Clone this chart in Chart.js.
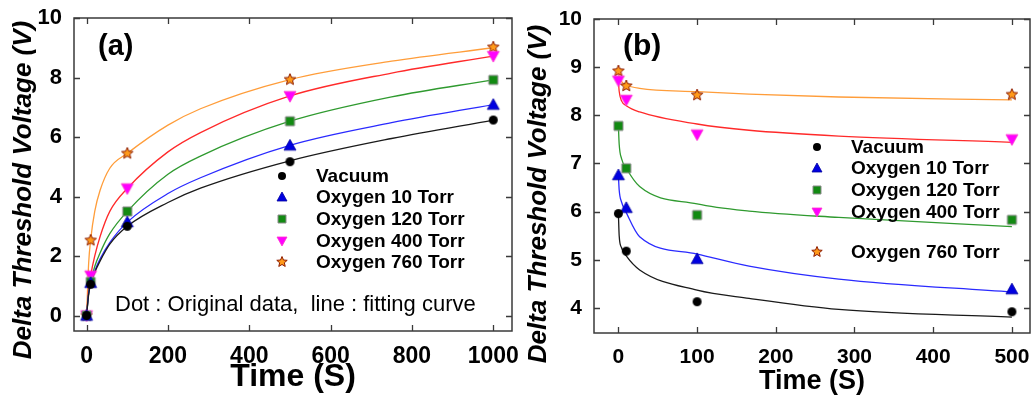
<!DOCTYPE html>
<html>
<head>
<meta charset="utf-8">
<script src="https://cdn.jsdelivr.net/npm/chart.js@4.4.1/dist/chart.umd.min.js"></script>
<style>
  html, body { margin: 0; padding: 0; background: #fff; }
  #wrap { position: relative; width: 1035px; height: 399px; overflow: hidden; }
  #wrap canvas { position: absolute; top: 0; }
</style>
</head>
<body>
<div id="wrap">
  <canvas id="chartA" width="530" height="399" style="left:0"></canvas>
  <canvas id="chartB" width="520" height="399" style="left:515px"></canvas>
</div>
<script>
const seriesNames = ['Vacuum', 'Oxygen 10 Torr', 'Oxygen 120 Torr', 'Oxygen 400 Torr', 'Oxygen 760 Torr'];

// (a) measured points
const timesA = [0, 10, 100, 500, 1000];
const vacuumA = [0, 1.05, 3.0, 5.17, 6.57];
const oxy10A = [0, 1.1, 3.14, 5.72, 7.09];
const oxy120A = [0, 1.13, 3.5, 6.53, 7.92];
const oxy400A = [0, 1.34, 4.27, 7.37, 8.72];
const oxy760A = [0, 2.53, 5.45, 7.93, 9.02];

// (a) fitting curves
const fitTimesA = [0, 5, 10, 20, 33, 57, 100, 200, 280, 500, 750, 1000];
const vacuumFitA = [0, 0.7, 1.05, 1.45, 1.83, 2.4, 3.0, 3.8, 4.28, 5.2, 5.95, 6.57];
const oxy10FitA = [0, 0.75, 1.1, 1.5, 1.9, 2.45, 3.14, 4.1, 4.63, 5.72, 6.48, 7.09];
const oxy120FitA = [0, 0.75, 1.13, 1.65, 2.1, 2.75, 3.5, 4.75, 5.36, 6.53, 7.35, 7.92];
const oxy400FitA = [0, 0.9, 1.35, 2.0, 2.65, 3.5, 4.27, 5.5, 6.15, 7.38, 8.15, 8.72];
const oxy760FitA = [0, 1.75, 2.55, 3.5, 4.2, 4.95, 5.45, 6.4, 6.95, 7.93, 8.55, 9.0];

// (b) measured points
const timesB = [0, 10, 100, 500];
const vacuumB = [5.96, 5.18, 4.13, 3.92];
const oxy10B = [6.76, 6.08, 5.02, 4.39];
const oxy120B = [7.78, 6.90, 5.93, 5.83];
const oxy400B = [8.72, 8.32, 7.60, 7.50];
const oxy760B = [8.92, 8.61, 8.42, 8.43];

// (b) fitting curves
const fitTimesB = [0, 1, 4, 10, 27, 100, 166, 280, 500];
const vacuumFitB = [5.96, 5.5, 5.25, 5.08, 4.79, 4.37, 4.2, 3.97, 3.81];
const oxy10FitB = [6.76, 6.45, 6.2, 5.98, 5.48, 5.12, 4.87, 4.6, 4.33];
const oxy120FitB = [7.78, 7.4, 7.1, 6.9, 6.52, 6.16, 6.01, 5.88, 5.69];
const oxy400FitB = [8.72, 8.5, 8.3, 8.2, 8.07, 7.82, 7.69, 7.57, 7.44];
const oxy760FitB = [8.92, 8.8, 8.7, 8.63, 8.56, 8.49, 8.44, 8.38, 8.32];

const xTicksA = [0, 200, 400, 600, 800, 1000];
const yTicksA = [0, 2, 4, 6, 8, 10];
const xTicksB = [0, 100, 200, 300, 400, 500];
const yTicksB = [4, 5, 6, 7, 8, 9, 10];

const FONT = "'Liberation Sans', Arial, Helvetica, sans-serif";
const lineColors = ['#1a1a1a', '#2a2aff', '#2f9a2f', '#ff2a2a', '#ff9d3a'];
const markerKinds = ['circle', 'triUp', 'square', 'triDown', 'star'];

function paintMarker(ctx, kind, cx, cy, s) {
  const h = s / 2;
  ctx.beginPath();
  if (kind === 'circle') {
    ctx.arc(cx, cy, h, 0, Math.PI * 2);
    ctx.fillStyle = '#000'; ctx.fill();
  } else if (kind === 'triUp' || kind === 'triDown') {
    const d = kind === 'triUp' ? 1 : -1;
    ctx.moveTo(cx, cy - d * h);
    ctx.lineTo(cx + h, cy + d * h * 0.8);
    ctx.lineTo(cx - h, cy + d * h * 0.8);
    ctx.closePath();
    ctx.fillStyle = kind === 'triUp' ? '#0000e0' : '#ff00ff';
    ctx.fill();
    ctx.strokeStyle = kind === 'triUp' ? '#0000a0' : '#ff33cc';
    ctx.lineWidth = 0.8; ctx.stroke();
  } else if (kind === 'square') {
    ctx.rect(cx - h, cy - h, s, s);
    ctx.fillStyle = '#128a12'; ctx.fill();
    ctx.strokeStyle = '#8a8a8a'; ctx.lineWidth = 1; ctx.stroke();
  } else {
    for (let i = 0; i < 10; i++) {
      const r = i % 2 === 0 ? h : h * 0.45;
      const a = -Math.PI / 2 + i * Math.PI / 5;
      const px = cx + r * Math.cos(a), py = cy + r * Math.sin(a);
      if (i === 0) ctx.moveTo(px, py); else ctx.lineTo(px, py);
    }
    ctx.closePath();
    ctx.fillStyle = '#ff9a1a'; ctx.fill();
    ctx.strokeStyle = '#8c1a00'; ctx.lineWidth = 1; ctx.stroke();
  }
}

function markerCanvas(kind, s) {
  const c = document.createElement('canvas');
  c.width = c.height = Math.ceil(s + 4);
  paintMarker(c.getContext('2d'), kind, c.width / 2, c.height / 2, s);
  return c;
}

const plotSizes = [9, 12, 9, 12, 12];

function pts(xs, ys) {
  return xs.map((x, i) => ({ x: x, y: ys[i] }));
}

function buildDatasets(times, points, fitTimes, fits) {
  const markers = points.map((ys, i) => ({
    label: seriesNames[i],
    data: pts(times, ys),
    showLine: false,
    pointStyle: markerCanvas(markerKinds[i], plotSizes[i]),
    order: 0
  }));
  const lines = fits.map((ys, i) => ({
    label: seriesNames[i] + ' fit',
    data: pts(fitTimes, ys),
    showLine: true,
    borderColor: lineColors[i],
    borderWidth: 1.3,
    pointRadius: 0,
    cubicInterpolationMode: 'monotone',
    order: 1
  }));
  return markers.concat(lines);
}

const framePlugin = {
  id: 'frame',
  afterDraw(chart, args, o) {
    const { ctx, chartArea: a, scales: { x, y } } = chart;
    ctx.save();
    ctx.strokeStyle = '#3a3a3a';
    ctx.lineWidth = 1.5;
    ctx.strokeRect(a.left, a.top, a.right - a.left, a.bottom - a.top);
    ctx.lineWidth = 1.3;
    ctx.beginPath();
    x.ticks.forEach(t => {
      const px = Math.round(x.getPixelForValue(t.value)) + 0.5;
      ctx.moveTo(px, a.bottom); ctx.lineTo(px, a.bottom - 6);
      ctx.moveTo(px, a.top); ctx.lineTo(px, a.top + 6);
    });
    y.ticks.forEach(t => {
      const py = Math.round(y.getPixelForValue(t.value)) + 0.5;
      ctx.moveTo(a.left, py); ctx.lineTo(a.left + 6, py);
      ctx.moveTo(a.right, py); ctx.lineTo(a.right - 6, py);
    });
    ctx.stroke();

    ctx.fillStyle = '#000';
    ctx.textBaseline = 'middle';
    // axis titles
    ctx.textAlign = 'center';
    ctx.font = 'bold ' + o.xTitleSize + 'px ' + FONT;
    ctx.fillText('Time (S)', (a.left + a.right) / 2, o.xTitleY);
    ctx.save();
    ctx.translate(o.yTitleX, o.yTitleY);
    ctx.rotate(-Math.PI / 2);
    ctx.font = 'italic bold 26px ' + FONT;
    ctx.fillText('Delta Threshold Voltage (V)', 0, 0);
    ctx.restore();

    // panel label
    ctx.textAlign = 'left';
    ctx.font = 'bold ' + o.labelSize + 'px ' + FONT;
    ctx.fillText(o.label, o.labelX, 47);

    // legend
    ctx.font = 'bold 19px ' + FONT;
    const legendSizes = [8, 10, 8, 10, 11];
    o.legendRows.forEach((ly, i) => {
      paintMarker(ctx, markerKinds[i], o.legendX, ly, legendSizes[i]);
      ctx.fillStyle = '#000';
      ctx.fillText(seriesNames[i], o.legendTextX, ly + 1);
    });

    if (o.note) {
      ctx.font = '22px ' + FONT;
      ctx.fillText(o.note, o.noteX, o.noteY);
    }
    ctx.restore();
  }
};

function makeChart(id, cfg) {
  return new Chart(document.getElementById(id), {
    type: 'scatter',
    data: { datasets: buildDatasets(cfg.times, cfg.points, cfg.fitTimes, cfg.fits) },
    options: {
      responsive: false,
      animation: false,
      layout: { padding: { top: cfg.top, right: cfg.right, bottom: 0, left: 0 } },
      plugins: {
        legend: { display: false },
        tooltip: { enabled: false },
        frame: cfg.frame
      },
      scales: {
        x: {
          type: 'linear',
          min: cfg.xMin, max: cfg.xMax,
          grid: { display: false, drawTicks: false },
          border: { display: false },
          ticks: {
            color: '#000', padding: cfg.xTickPad,
            font: { family: FONT, size: cfg.xTickSize, weight: 'bold' },
            callback: v => String(v)
          },
          afterBuildTicks: s => { s.ticks = cfg.xTicks.map(v => ({ value: v })); },
          afterFit: s => { s.height = cfg.xHeight; s.paddingLeft = 0; s.paddingRight = 0; }
        },
        y: {
          type: 'linear',
          min: cfg.yMin, max: cfg.yMax,
          grid: { display: false, drawTicks: false },
          border: { display: false },
          ticks: {
            color: '#000', padding: 12,
            font: { family: FONT, size: cfg.yTickSize, weight: 'bold' },
            callback: v => String(v)
          },
          afterBuildTicks: s => { s.ticks = cfg.yTicks.map(v => ({ value: v })); },
          afterFit: s => { s.width = cfg.yWidth; s.paddingTop = 0; s.paddingBottom = 0; }
        }
      }
    },
    plugins: [framePlugin]
  });
}

makeChart('chartA', {
  times: timesA,
  points: [vacuumA, oxy10A, oxy120A, oxy400A, oxy760A],
  fitTimes: fitTimesA,
  fits: [vacuumFitA, oxy10FitA, oxy120FitA, oxy400FitA, oxy760FitA],
  xMin: -31, xMax: 1046, yMin: -0.52, yMax: 10,
  xTicks: xTicksA, yTicks: yTicksA,
  top: 18, right: 18, xHeight: 68, yWidth: 74,
  xTickPad: 12, xTickSize: 23, yTickSize: 22,
  frame: {
    xTitleSize: 32, xTitleY: 377, yTitleX: 24, yTitleY: 190,
    label: '(a)', labelX: 98, labelSize: 29,
    legendX: 282, legendTextX: 316, legendRows: [176, 197, 219, 241, 262],
    note: 'Dot : Original data,  line : fitting curve', noteX: 115, noteY: 305
  }
});

makeChart('chartB', {
  times: timesB,
  points: [vacuumB, oxy10B, oxy120B, oxy400B, oxy760B],
  fitTimes: fitTimesB,
  fits: [vacuumFitB, oxy10FitB, oxy120FitB, oxy400FitB, oxy760FitB],
  xMin: -31, xMax: 523, yMin: 3.48, yMax: 10,
  xTicks: xTicksB, yTicks: yTicksB,
  top: 19, right: 3, xHeight: 66, yWidth: 79,
  xTickPad: 12, xTickSize: 21, yTickSize: 21,
  frame: {
    xTitleSize: 27, xTitleY: 382, yTitleX: 24, yTitleY: 194,
    label: '(b)', labelX: 108, labelSize: 30,
    legendX: 302, legendTextX: 336, legendRows: [147, 168, 190, 212, 252]
  }
});
</script>
</body>
</html>
